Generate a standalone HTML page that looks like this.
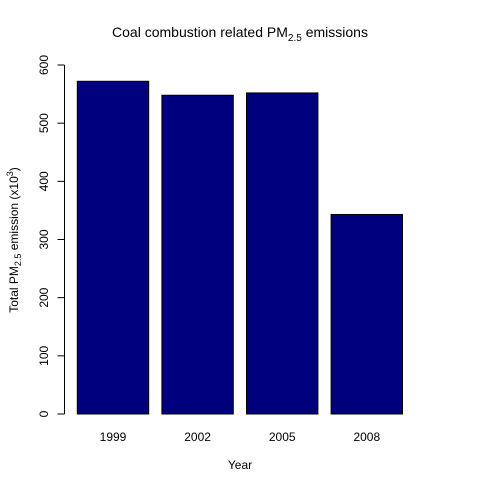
<!DOCTYPE html>
<html><head><meta charset="utf-8"><style>
body{margin:0;background:#fff}
text{font-family:"Liberation Sans",Arial,sans-serif;fill:#000}
</style></head><body>
<svg id="chart" width="480" height="480" xmlns="http://www.w3.org/2000/svg">
<rect width="480" height="480" fill="#fff"/>
<text x="240" y="37" font-size="14" text-anchor="middle">Coal combustion related PM<tspan font-size="10" dy="4">2.5</tspan><tspan dy="-4"> emissions</tspan></text>
<text x="240" y="469" font-size="12" text-anchor="middle">Year</text>
<text transform="translate(18,240) rotate(-90)" font-size="12" text-anchor="middle">Total PM<tspan font-size="9" dy="3">2.5</tspan><tspan dy="-3"> emission  (x10</tspan><tspan font-size="9" dy="-5">3</tspan><tspan dy="5">)</tspan></text>
<g id="bars"></g><g id="yaxis"></g><g id="xlabels"></g>
</svg>
<script>
const categories=["1999","2002","2005","2008"];
const values=[572,548,552,343];
const yTicks=[0,100,200,300,400,500,600];
const NS="http://www.w3.org/2000/svg";
function y(v){return 414-(v/600)*349;}
function xLeft(i){return 77.3+i*84.6;}
const bw=71.4;
const bars=document.getElementById('bars'),ya=document.getElementById('yaxis'),xl=document.getElementById('xlabels');
values.forEach((v,i)=>{
  const r=document.createElementNS(NS,'rect');
  
  
  r.setAttribute('x',xLeft(i));r.setAttribute('y',y(v));
  r.setAttribute('width',bw);r.setAttribute('height',y(0)-y(v));
  r.setAttribute('fill','#00007f');r.setAttribute('stroke','#000');r.setAttribute('stroke-width','1');
  bars.appendChild(r);
  const t=document.createElementNS(NS,'text');
  
  
  t.setAttribute('x',xLeft(i)+bw/2);t.setAttribute('y',441);
  t.setAttribute('font-size','12');t.setAttribute('text-anchor','middle');
  t.textContent=categories[i];xl.appendChild(t);
});
const ax=document.createElementNS(NS,'line');


ax.setAttribute('x1',64.5);ax.setAttribute('x2',64.5);ax.setAttribute('y1',y(0));ax.setAttribute('y2',y(600));ax.setAttribute('stroke','#000');
ya.appendChild(ax);
yTicks.forEach(v=>{
  const l=document.createElementNS(NS,'line');
  
  
  l.setAttribute('x1',57.5);l.setAttribute('x2',64.5);l.setAttribute('y1',y(v));l.setAttribute('y2',y(v));l.setAttribute('stroke','#000');
  ya.appendChild(l);
  const t=document.createElementNS(NS,'text');
  
  
  t.setAttribute('transform','translate(48,'+y(v)+') rotate(-90)');
  t.setAttribute('font-size','12');t.setAttribute('text-anchor','middle');
  t.textContent=v;ya.appendChild(t);
});
</script>
</body></html>
